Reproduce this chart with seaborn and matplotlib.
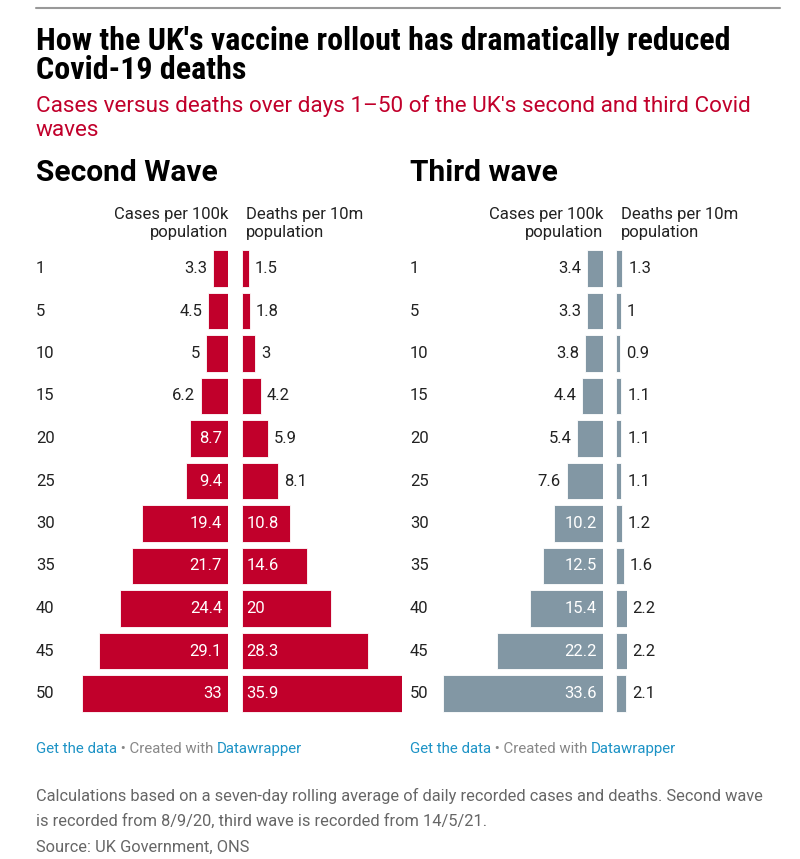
import matplotlib
matplotlib.use("Agg")
import matplotlib.pyplot as plt
import seaborn as sns
import pandas as pd

# ---- data ----
days = ["1", "5", "10", "15", "20", "25", "30", "35", "40", "45", "50"]
second_cases = [3.3, 4.5, 5, 6.2, 8.7, 9.4, 19.4, 21.7, 24.4, 29.1, 33]
second_deaths = [1.5, 1.8, 3, 4.2, 5.9, 8.1, 10.8, 14.6, 20, 28.3, 35.9]
third_cases = [3.4, 3.3, 3.8, 4.4, 5.4, 7.6, 10.2, 12.5, 15.4, 22.2, 33.6]
third_deaths = [1.3, 1, 0.9, 1.1, 1.1, 1.1, 1.2, 1.6, 2.2, 2.2, 2.1]

title = "How the UK's vaccine rollout has dramatically reduced\nCovid-19 deaths"
subtitle = "Cases versus deaths over days 1\u201350 of the UK's second and third Covid\nwaves"
panel_titles = ["Second Wave", "Third wave"]
col_cases = "Cases per 100k\npopulation"
col_deaths = "Deaths per 10m\npopulation"
notes = ["Calculations based on a seven-day rolling average of daily recorded cases and deaths. Second wave",
         "is recorded from 8/9/20, third wave is recorded from 14/5/21.",
         "Source: UK Government, ONS"]

RED = "#c1002b"
GREY = "#8297a4"
TXT = "#222222"
BLUE = "#1d93c6"

sns.set_theme(style="white")
plt.rcParams['font.family'] = ['Roboto', 'DejaVu Sans']

W, H = 800, 859
fig = plt.figure(figsize=(W / 100, H / 100), dpi=100)
fig.patch.set_facecolor("white")


def fx(px):
    return px / W


def fy(py):
    return 1 - py / H


ROW0 = 268.5
STEP = 42.5
TOP = ROW0 - STEP / 2
BOT = ROW0 + 10 * STEP + STEP / 2
FS = 12


def make_ax(left, right):
    ax = fig.add_axes([fx(left), fy(BOT), (right - left) / W, (BOT - TOP) / H])
    ax.set_axis_off()
    return ax


def draw(ax, vals, color, side, xmax, pxw):
    df = pd.DataFrame({"day": days, "v": vals})
    sns.barplot(data=df, x="v", y="day", order=days, orient="h", color=color,
                saturation=1, width=0.87, ax=ax, edgecolor="white", linewidth=0.6)
    ax.set_ylim(10.5, -0.5)
    if side == "left":
        ax.set_xlim(xmax, 0)
    else:
        ax.set_xlim(0, xmax)
    scale = pxw / xmax
    off = 4.3  # points
    for i, v in enumerate(vals):
        lab = f"{v:g}"
        inside = v * scale >= 37
        if side == "left":
            if inside:
                ax.annotate(lab, (0, i), xytext=(-off, 0), textcoords="offset points",
                            ha="right", va="center", color="white", fontsize=FS)
            else:
                ax.annotate(lab, (v, i), xytext=(-off, 0), textcoords="offset points",
                            ha="right", va="center", color=TXT, fontsize=FS)
        else:
            if inside:
                ax.annotate(lab, (0, i), xytext=(off - 1, 0), textcoords="offset points",
                            ha="left", va="center", color="white", fontsize=FS)
            else:
                ax.annotate(lab, (v, i), xytext=(off, 0), textcoords="offset points",
                            ha="left", va="center", color=TXT, fontsize=FS)


# Second wave
ax1 = make_ax(82, 228)
draw(ax1, second_cases, RED, "left", max(second_cases), 146)
ax2 = make_ax(242, 402)
draw(ax2, second_deaths, RED, "right", max(second_deaths), 160)
# Third wave
ax3 = make_ax(443, 603)
draw(ax3, third_cases, GREY, "left", max(third_cases), 160)
ax4 = make_ax(616, 626.5)
draw(ax4, third_deaths, GREY, "right", max(third_deaths), 10.5)

# day labels
for xl in (36, 410):
    for i, d in enumerate(days):
        fig.text(fx(xl), fy(ROW0 + i * STEP), d, ha="left", va="center",
                 fontsize=FS, color=TXT)

# top rule
fig.add_artist(plt.Line2D([fx(36), fx(780)], [fy(8), fy(8)], color="#999999", lw=1.5))

# title + subtitle
TFAM = ['Roboto Condensed', 'Roboto', 'DejaVu Sans']
fig.text(fx(36), fy(41), title.split("\n")[0], ha="left", va="center", fontsize=23,
         fontweight="bold", color="black", family=TFAM, fontstretch="condensed")
fig.text(fx(36), fy(70), title.split("\n")[1], ha="left", va="center", fontsize=23,
         fontweight="bold", color="black", family=TFAM, fontstretch="condensed")
fig.text(fx(36), fy(106), subtitle.split("\n")[0], ha="left", va="center",
         fontsize=16.2, color=RED)
fig.text(fx(36), fy(130), subtitle.split("\n")[1], ha="left", va="center",
         fontsize=16.2, color=RED)

# panel titles
fig.text(fx(36), fy(173), panel_titles[0], ha="left", va="center", fontsize=21.5,
         fontweight="bold", color="black")
fig.text(fx(410), fy(173), panel_titles[1], ha="left", va="center", fontsize=21.5,
         fontweight="bold", color="black")

# column headers
for xr, xl in ((228, 246), (603, 621)):
    for j, yy in enumerate((214, 233)):
        fig.text(fx(xr), fy(yy), col_cases.split("\n")[j], ha="right", va="center",
                 fontsize=FS, color=TXT)
        fig.text(fx(xl), fy(yy), col_deaths.split("\n")[j], ha="left", va="center",
                 fontsize=FS, color=TXT)

# footer credits
for x0 in (36, 410):
    t1 = fig.text(fx(x0), fy(749), "Get the data", ha="left", va="center",
                  fontsize=10.8, color=BLUE)
    fig.canvas.draw()
    bb = t1.get_window_extent()
    t2 = fig.text(bb.x1 / W, fy(749), " \u2022 Created with ", ha="left", va="center",
                  fontsize=10.8, color="#888888")
    bb2 = t2.get_window_extent()
    fig.text(bb2.x1 / W, fy(749), "Datawrapper", ha="left", va="center",
             fontsize=10.8, color=BLUE)

# notes
for i, line in enumerate(notes):
    fig.text(fx(36), fy(796 + i * 25.5), line, ha="left", va="center",
             fontsize=11.8, color="#666666")

fig.savefig("out.png", dpi=100, facecolor="white")
